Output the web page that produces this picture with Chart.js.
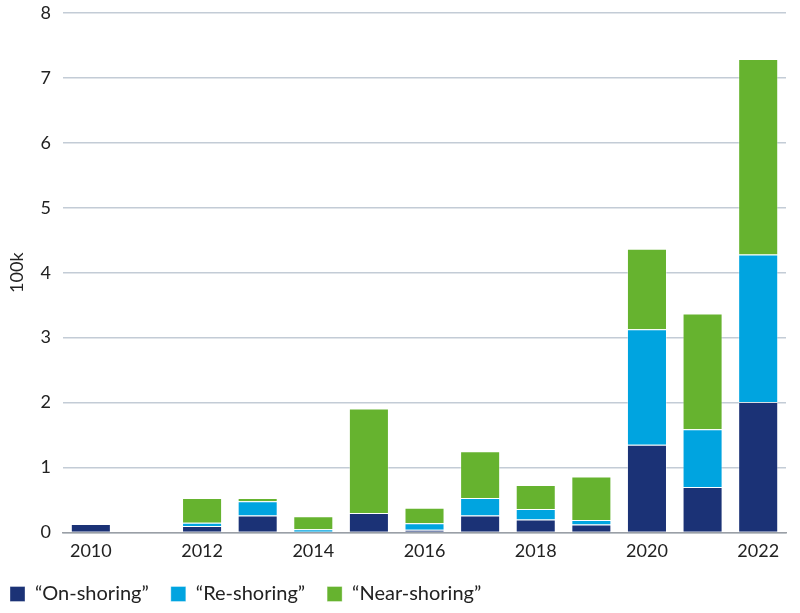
<!DOCTYPE html>
<html>
<head>
<meta charset="utf-8">
<script src="https://cdn.jsdelivr.net/npm/chart.js@4"></script>
<style>
  html, body { margin: 0; padding: 0; background: #fff; }
  #wrap { width: 800px; height: 613px; }
</style>
</head>
<body>
<div id="wrap"><canvas id="myChart" width="800" height="613"></canvas></div>
<script>
// Data (100k)
const years = ['2010', '2011', '2012', '2013', '2014', '2015', '2016', '2017', '2018', '2019', '2020', '2021', '2022'];
const onShoring = [0.13, 0, 0.10, 0.26, 0, 0.30, 0.04, 0.26, 0.20, 0.12, 1.35, 0.70, 2.01];
const reShoring = [0, 0, 0.05, 0.22, 0.05, 0, 0.10, 0.27, 0.16, 0.07, 1.78, 0.89, 2.27];
const nearShoring = [0, 0, 0.38, 0.05, 0.20, 1.61, 0.24, 0.72, 0.37, 0.67, 1.24, 1.78, 3.01];
const yTicks = [0, 1, 2, 3, 4, 5, 6, 7, 8];

const font = 'Lato, "Open Sans", sans-serif';

const data = {
  labels: years,
  datasets: [
    { label: '\u201COn-shoring\u201D', data: onShoring, backgroundColor: '#1b3276' },
    { label: '\u201CRe-shoring\u201D', data: reShoring, backgroundColor: '#00a4e0' },
    { label: '\u201CNear-shoring\u201D', data: nearShoring, backgroundColor: '#66b32f' },
  ].map((d) => ({
    ...d,
    borderColor: 'rgba(255,255,255,0.35)',
    borderWidth: 1,
    categoryPercentage: 0.72,
    barPercentage: 1,
  })),
};

const config = {
  type: 'bar',
  data,
  options: {
    responsive: false,
    animation: false,
    layout: { padding: { top: 0, right: 14, left: -12, bottom: -1 } },
    plugins: {
      tooltip: { enabled: false },
      legend: {
        position: 'bottom',
        align: 'start',
        labels: {
          boxWidth: 15,
          boxHeight: 15,
          padding: 22,
          color: '#222',
          font: { family: font, size: 20 },
        },
      },
    },
    scales: {
      x: {
        stacked: true,
        grid: { display: false, drawTicks: false },
        border: { display: true, color: '#9a9fa6', width: 1.5 },
        afterFit: (axis) => { axis.height -= 8; },
        ticks: {
          autoSkip: false,
          maxRotation: 0,
          padding: 8,
          color: '#222',
          font: { family: font, size: 18 },
          callback: (v, i) => (i % 2 === 0 ? years[i] : ''),
        },
      },
      y: {
        stacked: true,
        min: 0,
        max: 8,
        afterBuildTicks: (axis) => { axis.ticks = yTicks.map((v) => ({ value: v })); },
        afterFit: (axis) => { axis.paddingTop = 13; },
        grid: { color: '#c3ccd6', lineWidth: 1.5, drawTicks: false },
        border: { display: false },
        ticks: {
          padding: 12,
          color: '#222',
          font: { family: font, size: 18 },
        },
        title: {
          display: true,
          text: '100k',
          color: '#222',
          font: { family: font, size: 18 },
          padding: { top: 18, bottom: 1 },
        },
      },
    },
  },
};

const myChart = new Chart(document.getElementById('myChart'), config);
</script>
</body>
</html>
